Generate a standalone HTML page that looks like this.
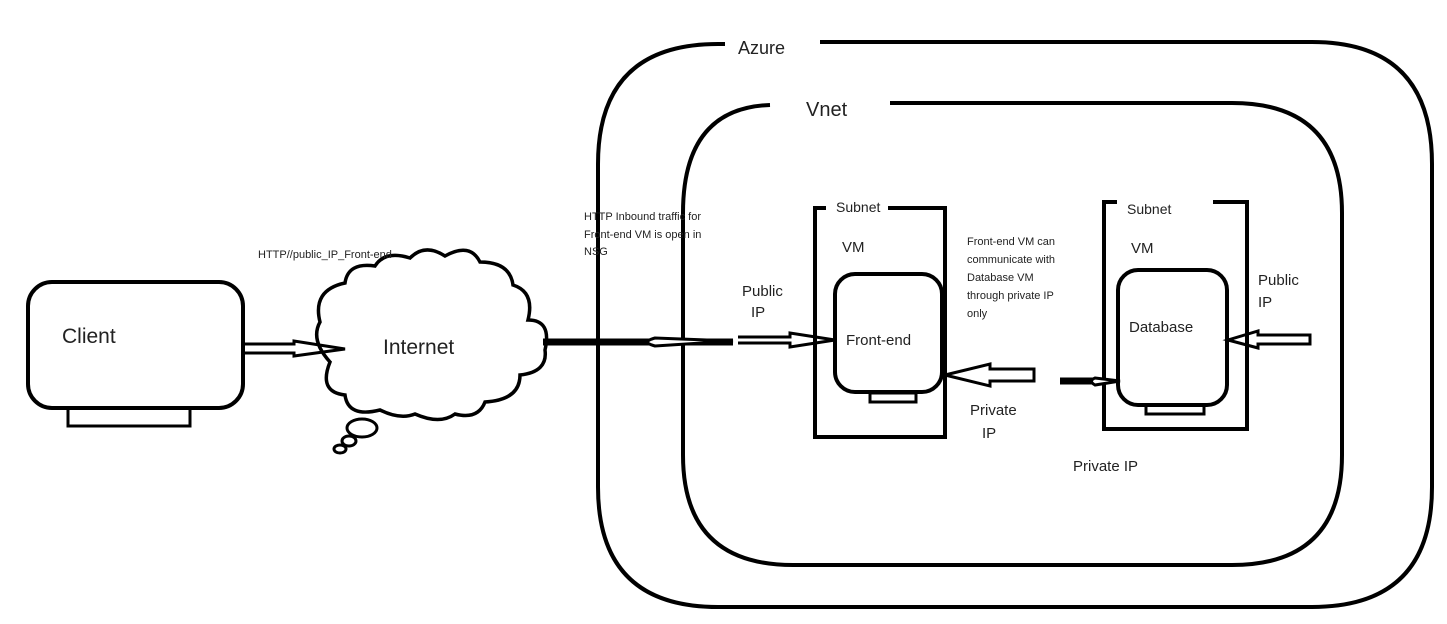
<!DOCTYPE html>
<html><head><style>
body{margin:0;background:#fff;}
svg text{font-family:"Liberation Sans",sans-serif;fill:#222;}
</style></head><body>
<svg width="1447" height="619" viewBox="0 0 1447 619" xmlns="http://www.w3.org/2000/svg">
<g fill="none" stroke="#000" stroke-width="4">
<path d="M725 44 L718 44 Q598 44 598 164 L598 487 Q598 607 718 607 L1312 607 Q1432 607 1432 487 L1432 164 Q1432 42 1312 42 L820 42"/>
<path d="M770 105 Q683 108 683 213 L683 455 Q683 565 793 565 L1232 565 Q1342 565 1342 455 L1342 213 Q1342 103 1232 103 L890 103"/>
<path d="M826 208 L815 208 L815 437 L945 437 L945 208 L888 208"/>
<path d="M1117 202 L1104 202 L1104 429 L1247 429 L1247 202 L1213 202"/>
<rect x="835" y="274" width="107" height="118" rx="20"/>
<rect x="870" y="393" width="46" height="9" stroke-width="3"/>
<rect x="1118" y="270" width="109" height="135" rx="20"/>
<rect x="1146" y="405" width="58" height="9" stroke-width="3"/>
<rect x="28" y="282" width="215" height="126" rx="24"/>
<rect x="68" y="408" width="122" height="18" stroke-width="3"/>
<path d="M330 362 Q310 340 320 322 Q312 290 345 283 Q348 262 375 266 Q385 250 410 258 Q425 243 445 256 Q470 242 480 262 Q510 262 513 285 Q535 292 528 320 Q552 320 545 350 Q548 372 520 375 Q520 400 485 402 Q478 420 455 414 Q440 425 415 414 Q400 420 380 410 Q348 418 345 395 Q318 392 330 362 Z" stroke-width="3.5"/>
<ellipse cx="362" cy="428" rx="15" ry="9" stroke-width="3"/>
<ellipse cx="349" cy="441" rx="7" ry="5" stroke-width="3"/>
<ellipse cx="340" cy="449" rx="6" ry="4" stroke-width="3"/>
<path d="M245 344 L294 344 L294 341 L345 349 L294 356 L294 353 L245 353" stroke-width="3"/>
<line x1="543" y1="342" x2="733" y2="342" stroke-width="7"/>
<path d="M733 341 L655 338 Q640 342 655 346 Z" stroke-width="3" fill="#fff"/>
<path d="M738 337 L790 337 L790 333 L835 340 L790 347 L790 343 L738 343" stroke-width="3"/>
<path d="M1034 369 L990 369 L990 364 L945 375 L990 386 L990 381 L1034 381 Z" stroke-width="3"/>
<line x1="1060" y1="381" x2="1095" y2="381" stroke-width="7"/>
<path d="M1095 378 L1120 381 L1095 385 Q1088 381 1095 378 Z" stroke-width="3" fill="#fff"/>
<path d="M1310 335 L1258 335 L1258 331 L1228 340 L1258 348 L1258 344 L1310 344 Z" stroke-width="3"/>
</g>
<text x="738" y="54" font-size="18">Azure</text>
<text x="806" y="116" font-size="20">Vnet</text>
<text x="836" y="212" font-size="14">Subnet</text>
<text x="1127" y="214" font-size="14">Subnet</text>
<text x="842" y="252" font-size="15">VM</text>
<text x="1131" y="253" font-size="15">VM</text>
<text x="846" y="345" font-size="15">Front-end</text>
<text x="1129" y="332" font-size="15">Database</text>
<text x="62" y="343" font-size="21">Client</text>
<text x="383" y="354" font-size="21">Internet</text>
<text x="258" y="258" font-size="11">HTTP//public_IP_Front-end</text>
<text font-size="11"><tspan x="584" y="220">HTTP Inbound traffic for</tspan><tspan x="584" y="238">Front-end VM is  open in</tspan><tspan x="584" y="255">NSG</tspan></text>
<text font-size="15"><tspan x="742" y="296">Public</tspan><tspan x="751" y="317">IP</tspan></text>
<text font-size="11"><tspan x="967" y="245">Front-end VM can</tspan><tspan x="967" y="263">communicate with</tspan><tspan x="967" y="281">Database VM</tspan><tspan x="967" y="299">through private IP</tspan><tspan x="967" y="317">only</tspan></text>
<text font-size="15"><tspan x="1258" y="285">Public</tspan><tspan x="1258" y="307">IP</tspan></text>
<text font-size="15"><tspan x="970" y="415">Private</tspan><tspan x="982" y="438">IP</tspan></text>
<text x="1073" y="471" font-size="15">Private IP</text>
</svg>
</body></html>
